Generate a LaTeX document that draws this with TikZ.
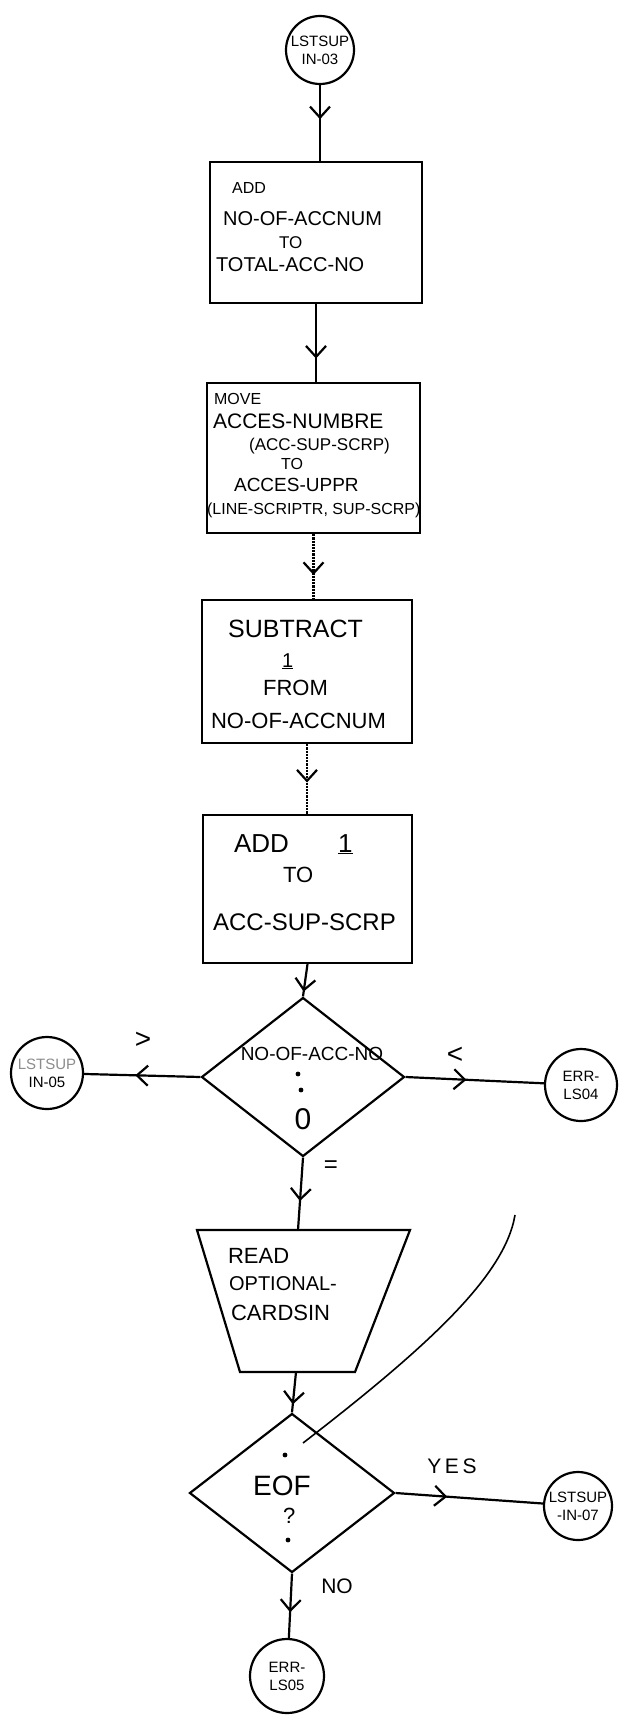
\documentclass[tikz,border=0pt]{standalone}
\usepackage{fontspec}
\setmainfont{Liberation Sans}
\usepackage{tikz}
\usetikzlibrary{arrows.meta, positioning, shapes.geometric, decorations.markings}
\newcommand{\fsz}[1]{\fontsize{#1}{#1}\selectfont}

\begin{document}
\begin{tikzpicture}[x=1pt, y=-1pt, line width=2.2pt,
  box/.style={draw, rectangle, inner sep=0pt},
  dia/.style={draw, diamond, inner sep=0pt},
  conn/.style={draw, circle, inner sep=0pt, align=center, font=\fontsize{15}{18}\selectfont},
  txt/.style={anchor=base west, inner sep=0pt},
  flow/.style={postaction={decorate}, decoration={markings, mark=at position #1 with {\arrow{Straight Barb[length=11pt, width=20pt]}}}},
  flow/.default=0.5]
\fill[white] (0,0) rectangle (624,1721);
\useasboundingbox (0,0) rectangle (624,1721);

% entry connector
\node[conn, minimum size=68pt] (lst03) at (320,50) {LSTSUP\\IN-03};

% ADD box
\node[box, minimum width=212pt, minimum height=141pt] (add1) at (316,232.5) {};
\node[txt, font=\fsz{16}] (add1a) at (231,193) {ADD};
\node[txt, font=\fsz{20}] (add1b) at (222,225) {NO-OF-ACCNUM};
\node[txt, font=\fsz{17}] (add1c) at (278,248) {TO};
\node[txt, font=\fsz{20}] (add1d) at (215,271) {TOTAL-ACC-NO};

% MOVE box
\node[box, minimum width=213pt, minimum height=150pt] (mv) at (313.5,458) {};
\node[txt, font=\fsz{16}] (mva) at (213,404) {MOVE};
\node[txt, font=\fsz{21}] (mvb) at (212,428) {ACCES-NUMBRE};
\node[txt, font=\fsz{17}] (mvc) at (248,450) {(ACC-SUP-SCRP)};
\node[txt, font=\fsz{16}] (mvd) at (280,469) {TO};
\node[txt, font=\fsz{19}] (mve) at (233,491) {ACCES-UPPR};
\node[txt, font=\fsz{16}] (mvf) at (206,514) {(LINE-SCRIPTR, SUP-SCRP)};

% SUBTRACT box
\node[box, minimum width=210pt, minimum height=143pt] (sub) at (307,671.5) {};
\node[txt, font=\fsz{25}] (suba) at (227,637) {SUBTRACT};
\node[txt, font=\fsz{20}] (subb) at (281,667) {\underline{1}};
\node[txt, font=\fsz{22}] (subc) at (262,695) {FROM};
\node[txt, font=\fsz{22}] (subd) at (210,728) {NO-OF-ACCNUM};

% ADD 1 box
\node[box, minimum width=209pt, minimum height=148pt] (ad2) at (307.5,889) {};
\node[txt, font=\fsz{26}] (ad2a) at (233,852) {ADD};
\node[txt, font=\fsz{26}] (ad2b) at (337,852) {\underline{1}};
\node[txt, font=\fsz{22}] (ad2c) at (282,882) {TO};
\node[txt, font=\fsz{24}] (ad2d) at (212,930) {ACC-SUP-SCRP};

% compare
\node[dia, minimum width=203pt, minimum height=159pt] (dt) at (303,1077) {};
\node[font=\fsz{19}, anchor=base, inner sep=0pt] (dta) at (312,1060) {NO-OF-ACC-NO};
\fill (298,1074) circle (2.4pt);
\fill (301,1090) circle (2.4pt);
\node[font=\fsz{30}, inner sep=0pt] (dtb) at (303,1119) {0};
\node[conn, minimum size=72pt] (in05) at (47,1073) {\textcolor{black!45}{LSTSUP}\\IN-05};
\node[conn, minimum size=72pt] (ls04) at (581,1085) {ERR-\\LS04};
\node[font=\fsz{28}, inner sep=0pt] (gt) at (143,1040) {>};
\node[font=\fsz{28}, inner sep=0pt] (lt) at (455,1055) {<};
\node[font=\fsz{24}, inner sep=0pt] (eq) at (331,1167) {=};

% read cards
\coordinate (rdtop) at (298,1230);
\coordinate (rdbot) at (296,1372);
\draw (197,1230) -- (410,1230) -- (355,1372) -- (240,1372) -- cycle;
\node[txt, font=\fsz{22}] (rda) at (227,1263) {READ};
\node[txt, font=\fsz{20}] (rdb) at (228,1290) {OPTIONAL-};
\node[txt, font=\fsz{22}] (rdc) at (230,1320) {CARDSIN};

% end of file test
\node[dia, minimum width=205pt, minimum height=159pt] (eof) at (292,1493) {};
\node[txt, font=\fsz{28}] (eofa) at (252,1495) {EOF};
\node[txt, font=\fsz{22}] (eofb) at (282,1523) {?};
\fill (285,1455) circle (2.4pt);
\fill (288,1540) circle (2.4pt);
\node[conn, minimum size=68pt] (in07) at (578,1506) {LSTSUP\\-IN-07};
\node[conn, minimum size=74pt] (ls05) at (287,1676) {ERR-\\LS05};
\node[font=\fsz{21}, inner sep=0pt] (yes) at (452,1466) {Y\,E\,S};
\node[font=\fsz{21}, inner sep=0pt] (no) at (337,1586) {NO};

% flow lines
\draw[flow=0.45] (lst03) -- (lst03 |- add1.north);
\draw[flow=0.7] (add1.south) -- (add1.south |- mv.north);
\draw[flow=0.63, densely dotted] (mv.south) -- (mv.south |- sub.north);
\draw[flow=0.55, densely dotted] (sub.south) -- (sub.south |- ad2.north);
\draw[flow=0.85] (ad2.south) -- (dt.north);
\draw[flow=0.6] (dt.south) -- (rdtop);
\draw[flow=0.8] (rdbot) -- (eof.north);
\draw[flow=0.6] (eof.south) -- (ls05);
\draw[flow=0.56] (dt.west) -- (in05);
\draw[flow=0.44] (dt.east) -- (ls04);
\draw[flow=0.35] (eof.east) -- (in07);

% stray pencil line
\draw[line width=1.6pt] (515,1215) .. controls (505,1275) and (430,1345) .. (303,1443);
\end{tikzpicture}
\end{document}
